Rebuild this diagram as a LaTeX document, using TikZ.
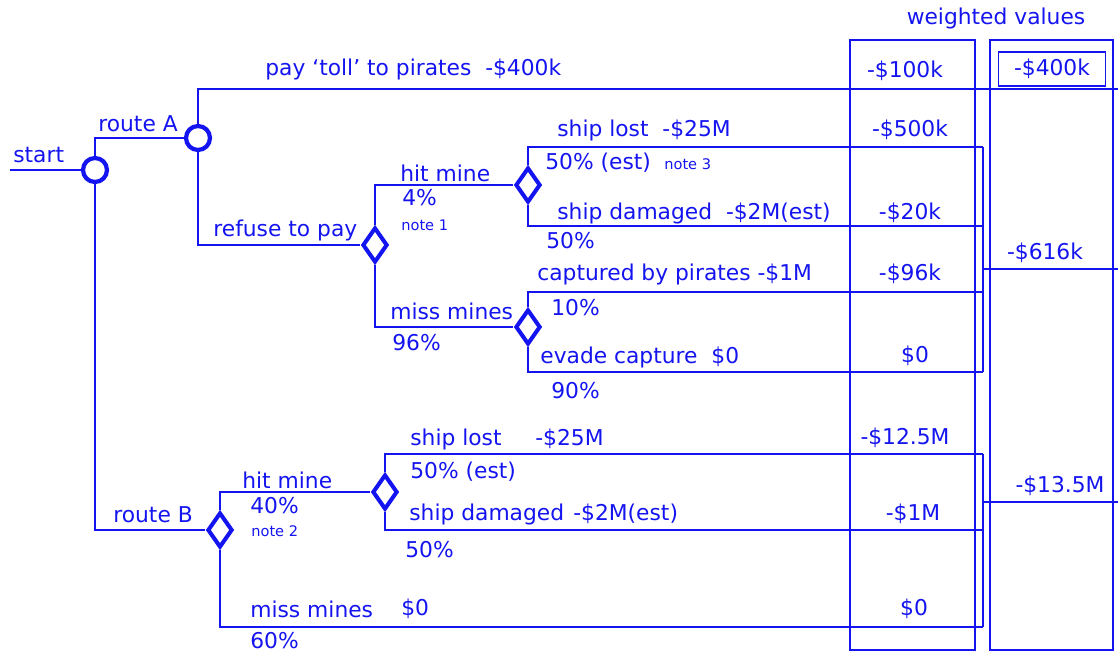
\documentclass[tikz,border=0pt]{standalone}
\usepackage{fontspec}
\setmainfont{DejaVu Sans}
\usetikzlibrary{positioning,shapes.geometric}
\definecolor{treeblue}{RGB}{20,20,240}

\begin{document}
\begin{tikzpicture}[
x=0.02cm, y=-0.02cm,
chance/.style={draw=treeblue, circle, line width=2.4pt, minimum size=0.48cm, inner sep=0pt},
event/.style={draw=treeblue, diamond, line width=2.3pt, minimum width=0.50cm, minimum height=0.70cm, inner sep=0pt},
branch/.style={draw=treeblue, line width=1.2pt},
frame/.style={draw=treeblue, line width=0.6pt},
lbl/.style={anchor=west, inner sep=0pt, text=treeblue, font=\fontsize{12.4}{14}\selectfont},
note/.style={anchor=west, inner sep=0pt, text=treeblue, font=\fontsize{8.3}{10}\selectfont},
val/.style={inner sep=0pt, text=treeblue, font=\fontsize{12.4}{14}\selectfont}
]
\useasboundingbox (0,0) rectangle (1118,652);

% value columns
\draw[frame] (850,40) rectangle (975,650);
\draw[frame] (990,40) rectangle (1113,650);
\node[val] (wtitle) at (996,18) {weighted values};

% decision nodes
\coordinate (entry) at (10,170);
\node[chance] (start) at (95,170) {};
\node[chance] (routeA) at (198,138) {};
\node[event] (refuse) at (375,245) {};
\node[event] (hitA) at (528,185) {};
\node[event] (missA) at (528,327) {};
\node[event] (routeB) at (220,530) {};
\node[event] (hitB) at (385,492) {};

% branch ends
\coordinate (toll) at (1118,89);
\coordinate (lostA) at (983,147);
\coordinate (dmgA) at (983,226);
\coordinate (capA) at (983,292);
\coordinate (evadeA) at (983,372);
\coordinate (sumA) at (983,269);
\coordinate (outA) at (1118,269);
\coordinate (lostB) at (983,454);
\coordinate (dmgB) at (983,530);
\coordinate (missB) at (983,627);
\coordinate (sumB) at (983,502);
\coordinate (outB) at (1118,502);

\draw[branch] (entry) -- (start.west);
\draw[branch] (start.north) |- (routeA.west);
\draw[branch] (start.south) |- (routeB.west);
\draw[branch] (routeA.north) |- (toll);
\draw[branch] (routeA.south) |- (refuse.west);
\draw[branch] (refuse.north) |- (hitA.west);
\draw[branch] (refuse.south) |- (missA.west);
\draw[branch] (hitA.north) |- (lostA);
\draw[branch] (hitA.south) |- (dmgA);
\draw[branch] (missA.north) |- (capA);
\draw[branch] (missA.south) |- (evadeA);
\draw[branch] (lostA) -- (evadeA);
\draw[branch] (sumA) -- (outA);
\draw[branch] (routeB.north) |- (hitB.west);
\draw[branch] (routeB.south) |- (missB);
\draw[branch] (hitB.north) |- (lostB);
\draw[branch] (hitB.south) |- (dmgB);
\draw[branch] (lostB) -- (missB);
\draw[branch] (sumB) -- (outB);

% branch labels
\node[lbl] (tstart) at (13,155) {start};
\node[lbl] (trouteA) at (98,124) {route A};
\node[lbl] (ttoll) at (265,69) {pay ‘toll’ to pirates\ \ -\$400k};
\node[lbl] (trefuse) at (213,230) {refuse to pay};
\node[lbl] (thitA) at (400,173) {hit mine};
\node[lbl] (tpA) at (402,198) {4\%};
\node[note] (note1) at (401,225) {note 1};
\node[lbl] (tmissA) at (390,311) {miss mines};
\node[lbl] (tqA) at (392,343) {96\%};
\node[lbl] (tlostA) at (557,130) {ship lost\ \ -\$25M};
\node[lbl] (tplostA) at (545,163) {50\% (est)};
\node[note] (note3) at (664,164) {note 3};
\node[lbl] (tdmgA) at (557,213) {ship damaged\ \ -\$2M(est)};
\node[lbl] (tpdmgA) at (546,241) {50\%};
\node[lbl] (tcapA) at (537,274) {captured by pirates -\$1M};
\node[lbl] (tpcapA) at (551,308) {10\%};
\node[lbl] (tevadeA) at (540,357) {evade capture\ \ \$0};
\node[lbl] (tpevadeA) at (551,391) {90\%};
\node[lbl] (trouteB) at (113,515) {route B};
\node[lbl] (thitB) at (242,480) {hit mine};
\node[lbl] (tpB) at (250,506) {40\%};
\node[note] (note2) at (251,531) {note 2};
\node[lbl] (tlostB) at (410,439) {ship lost};
\node[lbl] (tclostB) at (535,439) {-\$25M};
\node[lbl] (tplostB) at (410,472) {50\% (est)};
\node[lbl] (tdmgB) at (409,514) {ship damaged};
\node[lbl] (tcdmgB) at (573,514) {-\$2M(est)};
\node[lbl] (tpdmgB) at (405,550) {50\%};
\node[lbl] (tmissB) at (250,609) {miss mines};
\node[lbl] (tcmissB) at (401,609) {\$0};
\node[lbl] (tqB) at (250,641) {60\%};

% weighted values
\node[val] (wtoll) at (905,71) {-\$100k};
\node[val] (wlostA) at (910,130) {-\$500k};
\node[val] (wdmgA) at (910,213) {-\$20k};
\node[val] (wcapA) at (910,274) {-\$96k};
\node[val] (wevadeA) at (915,356) {\$0};
\node[val] (wlostB) at (905,438) {-\$12.5M};
\node[val] (wdmgB) at (913,514) {-\$1M};
\node[val] (wmissB) at (914,609) {\$0};
\node[val, draw=treeblue, line width=0.6pt, minimum width=2.14cm, minimum height=0.68cm] (btoll) at (1052,69) {-\$400k};
\node[val] (bA) at (1045,253) {-\$616k};
\node[val] (bB) at (1060,486) {-\$13.5M};
\end{tikzpicture}
\end{document}
